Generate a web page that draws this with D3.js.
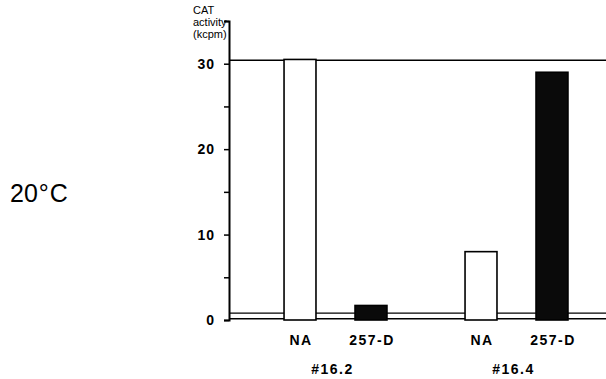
<!DOCTYPE html>
<html>
<head>
<meta charset="utf-8">
<script src="https://cdn.jsdelivr.net/npm/d3@7"></script>
<style>
  body { margin: 0; background: #fff; }
  text { font-family: "Liberation Sans", Arial, sans-serif; fill: #000; }
</style>
</head>
<body>
<div id="chart"></div>
<script>
// data
const groups = ["#16.2", "#16.4"];
const treatments = ["NA", "257-D"];
const values = [
  [30.5, 1.7],   // #16.2 : NA, 257-D
  [8.0, 29.0]    // #16.4 : NA, 257-D
];
const yTicks = [0, 10, 20, 30];

const W = 606, H = 379;
const svg = d3.select("#chart").append("svg")
  .attr("width", W).attr("height", H);

const y = d3.scaleLinear().domain([0, 35]).range([320, 21]);
const x0 = d3.scaleBand().domain(groups).range([245, 607]);
const x1 = d3.scaleBand().domain(treatments).range([0, x0.bandwidth()]).padding(0.55);
const axisX = 229;

// reference lines at top value and baseline
svg.append("line")
  .attr("x1", axisX).attr("x2", W).attr("y1", y(30.4)).attr("y2", y(30.4))
  .attr("stroke", "#000").attr("stroke-width", 1.6);
svg.append("line")
  .attr("x1", axisX).attr("x2", W).attr("y1", y(0.8)).attr("y2", y(0.8))
  .attr("stroke", "#000").attr("stroke-width", 1.2);
svg.append("line")
  .attr("x1", axisX).attr("x2", W).attr("y1", y(0.15)).attr("y2", y(0.15))
  .attr("stroke", "#000").attr("stroke-width", 1.6);

// bars
const g = svg.selectAll(".grp").data(groups).enter().append("g")
  .attr("transform", d => `translate(${x0(d)},0)`);

g.selectAll("rect")
  .data((d, i) => treatments.map((t, j) => ({ t, v: values[i][j] })))
  .enter().append("rect")
  .attr("x", d => x1(d.t))
  .attr("y", d => y(d.v))
  .attr("width", x1.bandwidth())
  .attr("height", d => y(0) - y(d.v))
  .attr("fill", d => d.t === "NA" ? "#fff" : "#0a0a0a")
  .attr("stroke", "#000")
  .attr("stroke-width", 1.6);

// y axis
const yAxis = d3.axisLeft(y)
  .tickValues(d3.range(0, 36, 5))
  .tickSize(5)
  .tickFormat(d => yTicks.includes(d) ? d : "");
const ya = svg.append("g").attr("transform", `translate(${axisX},0)`).call(yAxis);
ya.select(".domain").attr("stroke-width", 2);
ya.selectAll(".tick line").attr("stroke-width", 1.5);
ya.selectAll(".tick text")
  .attr("x", -14)
  .style("font-size", "14px")
  .style("font-weight", "bold")
  .style("letter-spacing", "1px")
  .style("font-family", "Liberation Sans, Arial, sans-serif");

// category labels
g.selectAll(".tl").data(treatments).enter().append("text")
  .attr("x", d => x1(d) + x1.bandwidth() / 2 + 1)
  .attr("y", 345)
  .attr("text-anchor", "middle")
  .style("font-size", "14px")
  .style("font-weight", "bold")
  .style("letter-spacing", "1.5px")
  .text(d => d);

svg.selectAll(".gl").data(groups).enter().append("text")
  .attr("x", d => x0(d) + x0.bandwidth() / 2 - 3)
  .attr("y", 374)
  .attr("text-anchor", "middle")
  .style("font-size", "14px")
  .style("font-weight", "bold")
  .style("letter-spacing", "1.5px")
  .text(d => d);

// axis title
["CAT", "activity", "(kcpm)"].forEach((s, i) => {
  svg.append("text")
    .attr("x", 193).attr("y", 14 + i * 12)
    .style("font-size", "11px")
    .text(s);
});

// temperature label
const tl = svg.append("text").attr("x", 10).attr("y", 202).style("font-size", "25px");
tl.append("tspan").text("20");
tl.append("tspan").attr("dx", 1).text("°");
tl.append("tspan").attr("dx", 1).text("C");
</script>
</body>
</html>
